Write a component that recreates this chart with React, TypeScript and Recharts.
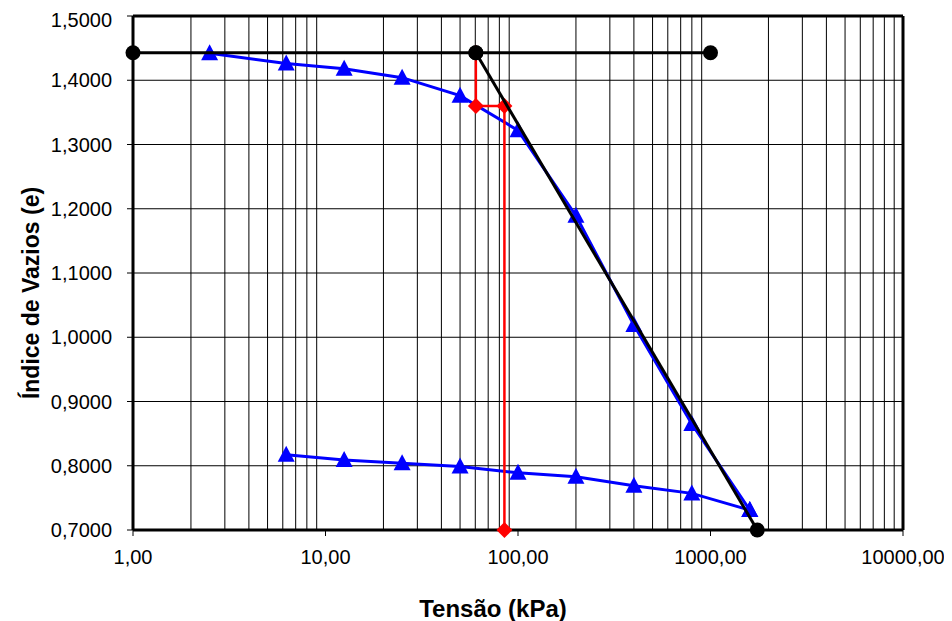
import React from 'react';
import {
	ScatterChart,
	Scatter,
	XAxis,
	YAxis,
	ReferenceLine,
	Label
} from 'recharts';

// ensaio de adensamento - carregamento e descarregamento
const loadStress = [2.5, 6.25, 12.5, 25, 50, 100, 200, 400, 800, 1600];
const loadVoid = [1.442, 1.426, 1.418, 1.404, 1.376, 1.322, 1.189, 1.019, 0.865, 0.731];
const unloadStress = [1600, 800, 400, 200, 100, 50, 25, 12.5, 6.25];
const unloadVoid = [0.731, 0.757, 0.769, 0.783, 0.789, 0.799, 0.804, 0.809, 0.817];

// construcao de Pacheco Silva
const e0Stress = [1, 60.4, 1000];
const e0Void = [1.4427, 1.4427, 1.4427];
const slopeStress = [60.4, 1750];
const slopeVoid = [1.4427, 0.7];
const pacheStress = [60.4, 60.4, 85, 85];
const pacheVoid = [1.4427, 1.36, 1.36, 0.7];

const xTicks = [1, 10, 100, 1000, 10000];
const yTicks = [0.7, 0.8, 0.9, 1.0, 1.1, 1.2, 1.3, 1.4, 1.5];
const decades = [1, 10, 100, 1000];
const minorSteps = [2, 3, 4, 5, 6, 7, 8, 9];

const pairs = (xs: number[], ys: number[]) => xs.map((x, i) => ({ x, y: ys[i] }));

const loading = pairs(loadStress, loadVoid);
const unloading = pairs(unloadStress, unloadVoid);
const e0Line = pairs(e0Stress, e0Void);
const slopeLine = pairs(slopeStress, slopeVoid);
const pacheLine = pairs(pacheStress, pacheVoid);

const minorX: number[] = [];
decades.forEach((d) => minorSteps.forEach((m) => minorX.push(d * m)));

const FONT = 'Liberation Sans, Arial, sans-serif';

const Triangle = (props: any) => {
	const { cx, cy } = props;
	return (
		<polygon
			points={`${cx},${cy - 9} ${cx + 8.5},${cy + 7} ${cx - 8.5},${cy + 7}`}
			fill="#0000FF"
		/>
	);
};

const Dot = (props: any) => <circle cx={props.cx} cy={props.cy} r={7.5} fill="#000" />;

const Diamond = (props: any) => {
	const { cx, cy } = props;
	return (
		<polygon
			points={`${cx},${cy - 8} ${cx + 8},${cy} ${cx},${cy + 8} ${cx - 8},${cy}`}
			fill="#FF0000"
		/>
	);
};

const fmtX = (v: number) => v.toFixed(2).replace('.', ',');
const fmtY = (v: number) => v.toFixed(4).replace('.', ',');

const App: React.FC = () => {
	return (
		<ScatterChart
			width={944}
			height={613}
			margin={{ top: 8, right: 49, left: 0, bottom: 3 }}
			style={{ fontFamily: FONT }}
		>
			<XAxis
				type="number"
				dataKey="x"
				scale="log"
				domain={[1, 10000]}
				ticks={xTicks}
				tickFormatter={fmtX}
				height={88}
				tickSize={6}
				tickMargin={14}
				stroke="#000"
				strokeWidth={3}
				tick={{ fill: '#000', fontSize: 20, fontFamily: FONT }}
				tickLine={{ stroke: '#000', strokeWidth: 1 }}
			>
				<Label
					content={(p: any) => {
						const vb = p.viewBox;
						return (
							<text
								x={vb.x + vb.width / 2 - 25}
								y={vb.y + 87}
								textAnchor="middle"
								fontSize={24}
								fontWeight="bold"
								fontFamily={FONT}
								fill="#000"
							>
								Tensão (kPa)
							</text>
						);
					}}
				/>
			</XAxis>
			<YAxis
				type="number"
				dataKey="y"
				domain={[0.7, 1.5]}
				ticks={yTicks}
				tickFormatter={fmtY}
				width={125}
				tickSize={6}
				tickMargin={15}
				stroke="#000"
				strokeWidth={3}
				tick={{ fill: '#000', fontSize: 20, fontFamily: FONT }}
				tickLine={{ stroke: '#000', strokeWidth: 1 }}
			>
				<Label
					content={(p: any) => {
						const vb = p.viewBox;
						return (
							<text
								transform={`translate(${vb.x + 31}, ${vb.y + vb.height / 2 + 20}) rotate(-90)`}
								textAnchor="middle"
								fontSize={23}
								fontWeight="bold"
								fontFamily={FONT}
								fill="#000"
							>
								Índice de Vazios (e)
							</text>
						);
					}}
				/>
			</YAxis>

			{minorX.map((v) => (
				<ReferenceLine key={'vx' + v} x={v} stroke="#000" strokeWidth={1} />
			))}
			{yTicks.slice(1, -1).map((v) => (
				<ReferenceLine key={'hy' + v} y={v} stroke="#000" strokeWidth={1} />
			))}
			<ReferenceLine y={1.5} stroke="#000" strokeWidth={3} />
			<ReferenceLine x={10000} stroke="#000" strokeWidth={3} />

			<Scatter
				data={loading}
				line={{ stroke: '#0000FF', strokeWidth: 3 }}
				shape={<Triangle />}
				isAnimationActive={false}
			/>
			<Scatter
				data={unloading}
				line={{ stroke: '#0000FF', strokeWidth: 3 }}
				shape={<Triangle />}
				isAnimationActive={false}
			/>
			<Scatter
				data={pacheLine}
				line={{ stroke: '#FF0000', strokeWidth: 2.5 }}
				shape={<Diamond />}
				isAnimationActive={false}
			/>
			<Scatter
				data={e0Line}
				line={{ stroke: '#000', strokeWidth: 3 }}
				shape={<Dot />}
				isAnimationActive={false}
			/>
			<Scatter
				data={slopeLine}
				line={{ stroke: '#000', strokeWidth: 3 }}
				shape={<Dot />}
				isAnimationActive={false}
			/>
		</ScatterChart>
	);
};

export default App;
